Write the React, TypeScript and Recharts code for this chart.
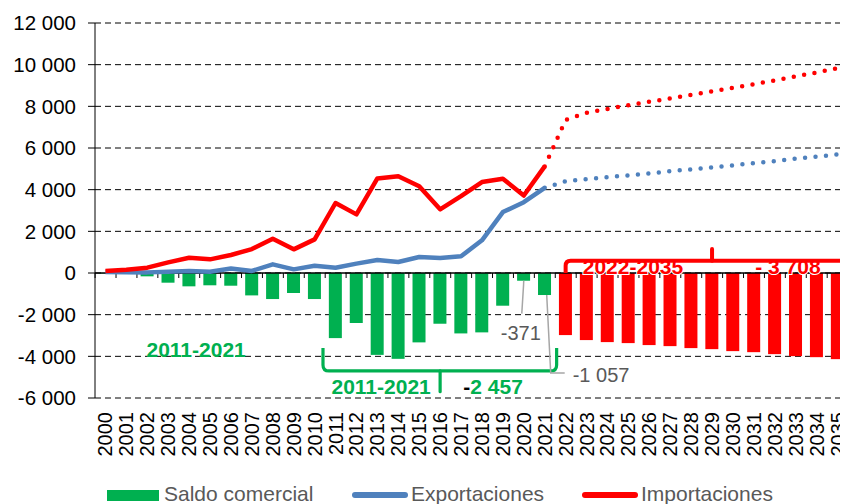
import React from 'react';
import {
  ComposedChart,
  Bar,
  Line,
  XAxis,
  YAxis,
  CartesianGrid,
  ReferenceLine,
  ReferenceDot,
  Legend,
  Cell,
} from 'recharts';

const years = [
  '2000', '2001', '2002', '2003', '2004', '2005', '2006', '2007', '2008',
  '2009', '2010', '2011', '2012', '2013', '2014', '2015', '2016', '2017',
  '2018', '2019', '2020', '2021', '2022', '2023', '2024', '2025', '2026',
  '2027', '2028', '2029', '2030', '2031', '2032', '2033', '2034', '2035',
];

// saldo comercial, 2000-2035
const saldo = [
  -20, -40, -160, -465, -640, -590, -610, -1075, -1250, -960, -1250,
  -3125, -2400, -3930, -4120, -3330, -2435, -2900, -2850, -1570, -371, -1057,
  -2980, -3220, -3317, -3365, -3460, -3510, -3605, -3655, -3750, -3800,
  -3895, -3990, -4040, -4135,
];

// 2000-2021
const exportsHist = [
  50, 30, 30, 60, 100, 60, 220, 100, 415, 175, 350, 255, 450, 620, 530,
  770, 720, 800, 1570, 2925, 3400, 4090,
];
// 2021-2035
const exportsProj = [
  4090, 4400, 4510, 4600, 4685, 4780, 4890, 4975, 5070, 5165, 5275, 5370,
  5485, 5580, 5690,
];

// 2000-2021
const importsHist = [
  100, 160, 255, 510, 735, 655, 865, 1150, 1645, 1135, 1615, 3360, 2815,
  4540, 4640, 4160, 3055, 3690, 4365, 4525, 3720, 5115,
];
// 2021-2035
const importsProj = [
  5115, 7350, 7690, 7875, 8050, 8220, 8380, 8555, 8715, 8890, 9065, 9245,
  9435, 9625, 9835,
];

const yTicks = [-6000, -4000, -2000, 0, 2000, 4000, 6000, 8000, 10000, 12000];

const GREEN = '#00B050';
const RED = '#FF0000';
const BLUE = '#4F81BD';
const GRAY_TEXT = '#595959';
const FONT = '"Liberation Sans", Arial, sans-serif';
const BAR_GAP = 0.18;

const histEnd = exportsHist.length - 1; // index of 2021
const firstProj = years.indexOf('2022');

const data = years.map((year, i) => ({
  year,
  saldo: saldo[i],
  exp: i <= histEnd ? exportsHist[i] : null,
  expProj: i >= histEnd ? exportsProj[i - histEnd] : null,
  imp: i <= histEnd ? importsHist[i] : null,
  impProj: i >= histEnd ? importsProj[i - histEnd] : null,
}));

const fmt = (v: number) =>
  (v < 0 ? '-' : '') + String(Math.abs(v)).replace(/\B(?=(\d{3})+(?!\d))/g, ' ');

function SaldoBar(props: any) {
  const { x, y, width, height, fill, index } = props;
  const zeroY = y + height;
  const band = width / (1 - 2 * BAR_GAP);
  const gap = (band - width) / 2;
  return (
    <g>
      <rect x={x} y={Math.min(y, zeroY)} width={width} height={Math.abs(height)} fill={fill} />
      <line x1={x - gap} x2={x - gap} y1={zeroY} y2={zeroY + 5} stroke="#000" strokeWidth={1} />
      {index === years.length - 1 && (
        <line x1={x + width + gap} x2={x + width + gap} y1={zeroY} y2={zeroY + 5} stroke="#000" strokeWidth={1} />
      )}
    </g>
  );
}

function YearTick(props: any) {
  const { x, y, payload } = props;
  return (
    <text
      x={x}
      y={y}
      transform={`rotate(-90 ${x} ${y})`}
      textAnchor="end"
      dominantBaseline="central"
      fontSize={20}
      fontFamily={FONT}
      fill="#000"
    >
      {payload.value}
    </text>
  );
}

function GreenBrace(props: any) {
  const { x1, y1, x2, y2 } = props;
  const band = (x2 - x1) / 10;
  const left = x1 - band * 0.6;
  const right = x2 + band * 0.57;
  const mid = (x1 + x2) / 2;
  const r = 6;
  const tick = ((y2 - y1) / 1100) * 1000;
  const d = `M${left},${y1} L${left},${y2 - r} Q${left},${y2} ${left + r},${y2} L${right - r},${y2} Q${right},${y2} ${right},${y2 - r} L${right},${y1}`;
  return (
    <g fontFamily={FONT} fontWeight="bold" fontSize={21}>
      <path d={d} stroke={GREEN} strokeWidth={3.2} fill="none" />
      <line x1={mid} y1={y2} x2={mid} y2={y2 + tick} stroke={GREEN} strokeWidth={3.2} strokeLinecap="round" />
      <text x={mid - 59} y={y2 + 23.5} textAnchor="middle" fill={GREEN}>2011-2021</text>
      <text x={mid + 53} y={y2 + 23.5} textAnchor="middle" fill={GREEN}>
        <tspan fill="#000">-</tspan>2 457
      </text>
    </g>
  );
}

function RedBrace(props: any) {
  const { x1, y1, x2, y2 } = props;
  const band = (x2 - x1) / 7;
  const yh = y2 - ((y2 - y1) * 585) / 1150;
  const right = x2 + (x2 - x1);
  const r = 5;
  const d = `M${x1},${y2} L${x1},${yh + r} Q${x1},${yh} ${x1 + r},${yh} L${right - r},${yh} Q${right},${yh} ${right},${yh + r} L${right},${y2}`;
  const textStyle = { paintOrder: 'stroke' } as React.CSSProperties;
  return (
    <g fontFamily={FONT} fontWeight="bold" fontSize={21}>
      <text x={x1 + band * 3.22} y={y2 + 0.5} textAnchor="middle" fill={RED} stroke="#fff" strokeWidth={2} style={textStyle}>
        2022-2035
      </text>
      <text x={x2 + band * 3.63} y={y2 + 0.5} textAnchor="middle" fill={RED} stroke="#fff" strokeWidth={2} style={textStyle}>
        - 3 708
      </text>
      <path d={d} stroke={RED} strokeWidth={4} fill="none" />
      <line x1={x2} y1={yh} x2={x2} y2={y1} stroke={RED} strokeWidth={4} strokeLinecap="round" />
    </g>
  );
}

function Leader371(props: any) {
  const { x1, y1, x2, y2 } = props;
  return (
    <g>
      <line x1={x1} y1={y1} x2={x2 - 2} y2={y2} stroke="#A6A6A6" strokeWidth={1.5} />
      <text x={x2 - 3} y={y2 + 26.5} textAnchor="middle" fontSize={20} fontFamily={FONT} fill={GRAY_TEXT}>
        -371
      </text>
    </g>
  );
}

function Leader1057(props: any) {
  const { x1, y1, y2 } = props;
  return (
    <g>
      <path d={`M${x1 + 2},${y1} L${x1 + 6},${y2} L${x1 + 20},${y2}`} stroke="#A6A6A6" strokeWidth={1.5} fill="none" />
      <text x={x1 + 28} y={y2 + 9} fontSize={20} fontFamily={FONT} fill={GRAY_TEXT}>
        -1 057
      </text>
    </g>
  );
}

function LeftLabel(props: any) {
  const { cx, cy } = props;
  return (
    <text x={cx + 7} y={cy} textAnchor="middle" fontSize={21} fontWeight="bold" fontFamily={FONT} fill={GREEN}>
      2011-2021
    </text>
  );
}

function LegendBox() {
  const text: React.CSSProperties = { position: 'absolute', top: 0, lineHeight: '20px', whiteSpace: 'nowrap' };
  return (
    <div style={{ position: 'relative', width: 840, height: 20, fontFamily: FONT, fontSize: 21, color: GRAY_TEXT }}>
      <div style={{ position: 'absolute', left: 99, top: 6, width: 52, height: 11, background: GREEN }} />
      <span style={{ ...text, left: 156 }}>Saldo comercial</span>
      <div style={{ position: 'absolute', left: 344, top: 8, width: 56, height: 6, borderRadius: 3, background: BLUE }} />
      <span style={{ ...text, left: 403 }}>Exportaciones</span>
      <div style={{ position: 'absolute', left: 574, top: 8, width: 56, height: 6, borderRadius: 3, background: RED }} />
      <span style={{ ...text, left: 633 }}>Importaciones</span>
    </div>
  );
}

export default function App() {
  return (
    <ComposedChart
      width={840}
      height={496}
      data={data}
      margin={{ top: 15, right: 0, bottom: 0, left: 0 }}
      barCategoryGap={`${BAR_GAP * 100}%`}
    >
      <CartesianGrid vertical={false} stroke="#000" strokeDasharray="6 4" />
      <XAxis
        dataKey="year"
        interval={0}
        height={86}
        tick={<YearTick />}
        tickLine={false}
        axisLine={false}
        tickSize={0}
        tickMargin={14}
      />
      <YAxis
        width={87}
        domain={[-6000, 12000]}
        ticks={yTicks}
        tickFormatter={fmt}
        tickSize={7}
        tickMargin={12}
        axisLine={{ stroke: '#000' }}
        tickLine={{ stroke: '#000' }}
        tick={{ fontSize: 20.5, fill: '#000', fontFamily: FONT }}
      />
      <Legend content={<LegendBox />} wrapperStyle={{ left: 0, bottom: 0, width: 840, height: 20 }} />
      <Bar dataKey="saldo" name="Saldo comercial" shape={<SaldoBar />} isAnimationActive={false}>
        {data.map((d, i) => (
          <Cell key={d.year} fill={i < firstProj ? GREEN : RED} />
        ))}
      </Bar>
      <ReferenceLine y={0} stroke="#000" strokeWidth={1.3} />
      <Line
        dataKey="exp"
        name="Exportaciones"
        stroke={BLUE}
        strokeWidth={4.5}
        dot={false}
        strokeLinejoin="round"
        isAnimationActive={false}
      />
      <Line
        dataKey="expProj"
        stroke={BLUE}
        strokeWidth={4.5}
        strokeDasharray="0 10.5"
        strokeLinecap="round"
        dot={false}
        legendType="none"
        isAnimationActive={false}
      />
      <Line
        dataKey="imp"
        name="Importaciones"
        stroke={RED}
        strokeWidth={4.5}
        dot={false}
        strokeLinejoin="round"
        isAnimationActive={false}
      />
      <Line
        dataKey="impProj"
        stroke={RED}
        strokeWidth={4.5}
        strokeDasharray="0 10.5"
        strokeLinecap="round"
        dot={false}
        legendType="none"
        isAnimationActive={false}
      />
      <ReferenceDot x="2004" y={-4020} r={0} shape={<LeftLabel />} />
      <ReferenceLine segment={[{ x: '2011', y: -3600 }, { x: '2021', y: -4700 }]} shape={<GreenBrace />} />
      <ReferenceLine segment={[{ x: '2020', y: -371 }, { x: '2020', y: -1950 }]} shape={<Leader371 />} />
      <ReferenceLine segment={[{ x: '2021', y: -1057 }, { x: '2021', y: -4800 }]} shape={<Leader1057 />} />
      <ReferenceLine segment={[{ x: '2022', y: 1150 }, { x: '2029', y: 0 }]} shape={<RedBrace />} />
    </ComposedChart>
  );
}
